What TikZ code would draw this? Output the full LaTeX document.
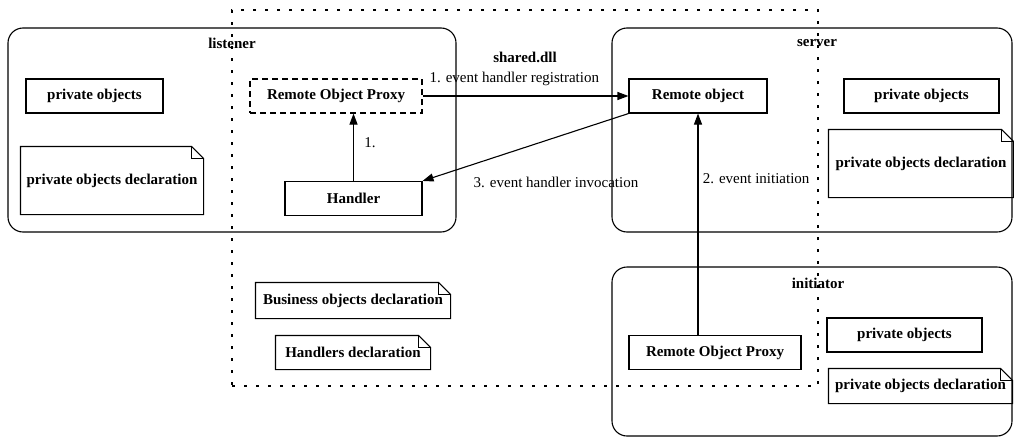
\documentclass[tikz,border=0pt]{standalone}
\usepackage{fontspec}
\setmainfont{Liberation Serif}
\usetikzlibrary{positioning, arrows.meta, calc}

\begin{document}
\begin{tikzpicture}[x=1pt, y=-1pt,
  every node/.style={font=\fontsize{15}{18}\selectfont},
  box/.style={draw, line width=1.1pt, minimum width=#1, minimum height=34pt,
    inner sep=0pt, font=\bfseries\fontsize{15}{18}\selectfont},
  box/.default=137pt,
  note/.style={box=#1, draw=none},
  group/.style={draw, line width=1.1pt, rounded corners=15pt, inner sep=0pt},
  title/.style={font=\bfseries\fontsize{15}{18}\selectfont},
  arr/.style={-{Triangle[length=11pt, width=8pt]}, line width=1.1pt}
]
  \useasboundingbox (0,0) rectangle (1014,439);

  % shared.dll frame
  \node[draw, line width=1.3pt, dash pattern=on 3pt off 9pt, minimum width=586pt,
    minimum height=376pt, inner sep=0pt] (dll) at (525,198) {};
  \node[title] (dlllbl) at (525,57) {shared.dll};

  % Process boxes
  \node[group, minimum width=448pt, minimum height=204pt] (lst) at (232,130) {};
  \node[group, minimum width=400pt, minimum height=204pt] (srv) at (812,130) {};
  \node[group, minimum width=400pt, minimum height=169pt] (ini) at (812,351.5) {};
  \node[title] (lstlbl) at (232,43) {listener};
  \node[title] (srvlbl) at (817,43) {server};
  \node[title] (inilbl) at (818,283) {initiator};

  % listener
  \node[box] (lpriv) at (94.5,96) {private objects};
  \node[note=182pt, minimum height=67pt] (lnote) at (112,180.5) {private objects declaration};
  \node[box=172pt, dash pattern=on 6pt off 4pt] (lrop) at (336,96) {Remote Object Proxy};
  \node[box] (hnd) at (353.5,198.5) {Handler};

  % server
  \node[box=138pt] (robj) at (698,96) {Remote object};
  \node[box=155pt] (spriv) at (921.5,96) {private objects};
  \node[note=184pt, minimum height=67pt] (snote) at (921,163.5) {private objects declaration};

  % shared declarations
  \node[note=194pt, minimum height=35pt] (bnote) at (353,300.5) {Business objects declaration};
  \node[note=154pt, minimum height=33pt] (hnote) at (353,352.5) {Handlers declaration};

  % initiator
  \node[box=172pt] (irop) at (715,352.5) {Remote Object Proxy};
  \node[box=155pt] (ipriv) at (904.5,335) {private objects};
  \node[note=183pt] (inote) at (920.5,386) {private objects declaration};

  % Note outlines with folded corner
  \foreach \n in {lnote, snote, bnote, hnote, inote} {
    \draw[line width=1.1pt] (\n.north west) -- ([xshift=-12pt]\n.north east)
      -- ([yshift=-12pt]\n.north east) -- (\n.south east) -- (\n.south west) -- cycle;
    \draw[line width=1.1pt] ([xshift=-12pt]\n.north east) |- ([yshift=-12pt]\n.north east);
  }

  % Arrows
  \draw[arr] (hnd.north) -- (hnd.north |- lrop.south);
  \draw[arr] (lrop) -- (robj);
  \draw[arr] (robj.south west) -- (hnd.north east);
  \draw[arr] (irop.north -| robj.south) -- (robj.south);

  % Arrow labels
  \node[anchor=west] (reglbl) at (426,79) {1. event handler registration};
  \node (onelbl) at (370,143) {1.};
  \node (invlbl) at (556,182) {3. event handler invocation};
  \node[anchor=east] (initlbl) at (813,179) {2. event initiation};
\end{tikzpicture}
\end{document}
